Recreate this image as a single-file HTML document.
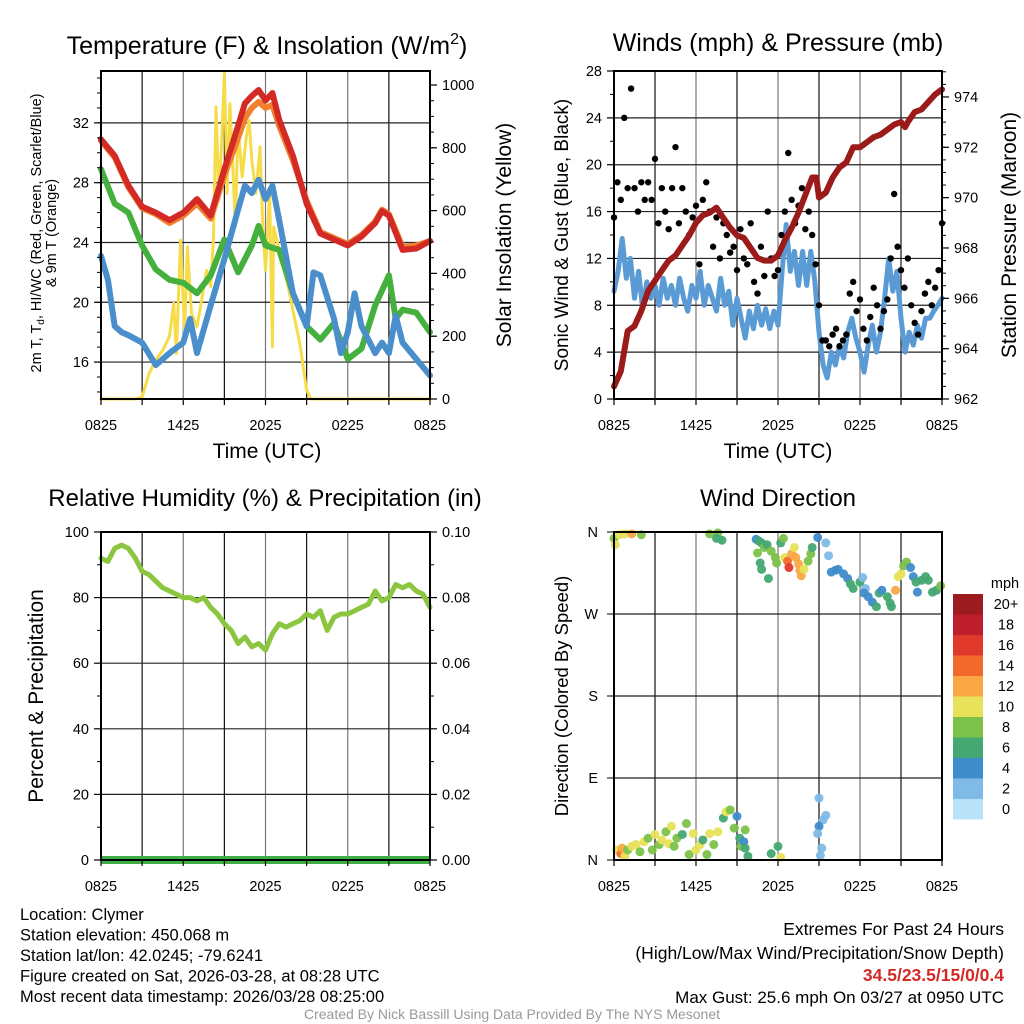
<!DOCTYPE html>
<html><head><meta charset="utf-8"><style>
body{margin:0;background:#fff;}
svg{display:block;font-family:"Liberation Sans",sans-serif;}
</style></head><body>
<svg id="svg" width="1024" height="1024" viewBox="0 0 1024 1024" xmlns="http://www.w3.org/2000/svg"></svg>
<script>
// ---- Panel 1 data ----
const redT=[0,1,2,3,4,5,6,7,8,9,10,10.5,11,11.5,12,12.5,13,14,15,16,17,18,19,20,20.5,21,22,23,24];
const redV=[30.9,29.8,27.8,26.4,26,25.5,26,26.9,25.8,28.9,31.8,33.3,33.8,34.2,33.5,34,32.2,29.8,26.6,24.6,24.2,23.8,24.4,25.3,26.1,25.8,23.5,23.6,24.1];
const orangeV=[30.8,29.7,27.7,26.3,25.9,25.3,25.8,26.6,25.6,28.5,31.0,32.3,33.0,33.4,33.0,33.2,31.8,29.5,26.8,24.7,24.3,23.9,24.5,25.4,26.2,25.9,23.7,23.8,24.1];
const greenT=[0,1,2,3,4,5,6,7,8,9,10,11,11.5,12,13,14,15,16,17,18,19,20,21,21.5,22,23,24];
const greenV=[28.9,26.6,26,23.8,22.2,21.5,21.3,20.6,21.8,24.2,22,23.8,25.1,23.8,23.5,20.6,18.4,17.5,18.6,16.2,16.9,19.8,21.8,18.9,19.5,19.3,18];
const blueT=[0,0.5,1,1.5,2,3,4,5,6,6.5,7,8,9,10,10.5,11,11.5,12,12.5,13,14,15,15.5,16,17,17.5,18,18.5,19,20,20.5,21,21.5,22,23,24];
const blueV=[23.1,21.5,18.4,18,17.8,17.3,15.8,16.6,17.3,18.9,16.6,19.8,22.9,26.2,27.8,27.3,28.2,26.9,27.8,25.5,20.6,18.4,22,21.8,18.9,16.6,18,20.6,18.4,16.6,17.3,16.6,19.1,17.3,16.2,15.1];
const solT=[0,2.5,3,3.5,4,4.5,5,5.3,5.5,5.8,6.1,6.3,6.6,7,7.3,7.7,8,8.2,8.4,8.6,8.8,9,9.2,9.4,9.6,9.8,10,10.3,10.6,10.8,11,11.3,11.6,11.8,12,12.3,12.5,12.6,13,13.5,14,14.5,15,15.3,24];
const solV=[0,0,7,80,125,155,200,305,145,506,210,485,273,230,305,410,358,506,930,634,814,1037,655,940,761,548,867,708,835,888,761,655,803,548,410,655,166,548,474,390,283,177,29,0,0];
// ---- Panel 2 data ----
const presT=[0,0.5,1,1.5,2,2.5,3,3.5,4,4.5,5,5.5,6,6.5,7,7.5,8,8.5,9,9.5,10,10.5,11,11.5,12,12.5,13,13.5,14,14.5,14.8,15,15.5,16,16.5,17,17.5,18,18.5,19,19.5,20,20.5,21,21.3,21.5,22,22.5,23,23.5,24];
const presV=[962.5,963.1,964.7,964.9,965.5,966.3,966.7,967.1,967.5,967.7,968.1,968.5,969.0,969.3,969.4,969.6,969.2,968.8,968.5,968.4,968.0,967.6,967.5,967.5,967.7,968.3,968.8,969.4,970.1,970.8,970.8,970.0,970.2,970.8,971.2,971.4,972.0,972.0,972.2,972.4,972.5,972.7,972.9,973.0,972.8,973.0,973.4,973.5,973.8,974.1,974.3];
const windV=[9.2,10.9,13.7,10.3,12,8.6,10.9,7.7,10,8.6,9.7,8,10.3,8.6,9.7,8,10.3,8.6,7.5,9.7,8.6,10.9,8,9.7,8.6,7.5,10.3,8,9.2,6.3,8.6,6.9,5.2,7.5,6,8,6.3,7.7,6,7.5,6.3,10.9,14.9,10.9,12.6,9.7,12.6,9.7,12.6,10,5.7,2.9,1.8,4,2.9,4.6,3.5,5.7,6.9,5.2,4,2.3,4.6,6.3,4,5.7,8.6,12,9.2,10.9,6.9,4,5.7,4.6,6.3,5.2,6.9,6.9,7.5,8,8.6];
const gustV=[15.5,18.5,17,24,18,26.5,18,16,18.5,17,18.5,17,20.5,15,18,16,14.5,18,21.5,15,18,16,14,15.5,16.5,11.5,17,18.5,16,13,15.5,12,15,14,12.5,13,11,14.5,12,11.5,15,10,9,13,10.5,16,12,10.5,11,14,16,21,17,15,16.5,18,14.5,16,14,11.5,8,5,5,4.5,5.5,6,4.5,5,5.5,9,10,7.5,8.5,6,5,7,9.5,8,6,7.5,8.5,12,17.5,13,11,9.5,12,8,6.5,5.5,7.5,9,10,8,9.5,11,15];
// ---- Panel 3 data ----
const rhT=[0,0.5,1,1.5,2,2.5,3,3.5,4,4.5,5,5.5,6,6.5,7,7.5,8,8.5,9,9.5,10,10.5,11,11.5,12,12.5,13,13.5,14,14.5,15,15.5,16,16.5,17,17.5,18,18.5,19,19.5,20,20.5,21,21.5,22,22.5,23,23.5,24];
const rhV=[92,91,95,96,95,92,88,87,85,83,82,81,80,80,79,80,77,75,72,70,66,68,65,66,64,69,72,71,72,73,75,74,76,70,74,75,75,76,77,78,82,79,80,84,83,84,82,81,77];
// ---- Panel 4 data ----
const dirT=[0,0.1,0.4,0.8,1.3,2,0.2,0.5,0.6,0.8,1,1.3,1.6,1.9,2.2,2.5,2.8,3,3.3,3.5,3.8,4,4.2,4.4,4.6,5,5.3,5.5,5.8,6,6.3,6.5,6.8,7,7.3,7.6,8,8.2,8.5,8.8,9,9.2,9.3,9.5,9.6,9.8,9.6,11.5,12,12.2,15,15.5,15.3,15,14.9,15.2,15.1,7,7.6,7.5,7.9,10.4,10.6,10.8,10.5,10.7,10.8,11,11.2,11.3,11.5,11.8,11.9,12.2,12.4,12.5,12.7,12.8,13,13.2,13.3,13.5,13.6,13.7,13.9,14.2,14.4,14.5,14.9,15.5,15.7,15.9,16.2,16.4,16.8,17.1,17.3,17.5,18,18.2,18.4,18.3,18.6,18.9,19.2,19.4,19.6,20,20.2,20.3,20.6,20.8,21,21.2,21.4,21.7,21.9,22.1,22.2,22.5,22.8,23,23.3,23.6,23.9];
const dirV=[353,346,357,358,358,357,11,7,13,4,11,15,17,9,20,24,11,28,17,22,31,18,37,15,24,28,40,6,29,11,17,22,6,29,17,31,46,53,55,35,48,24,15,20,13,4,33,7,15,3,68,49,44,37,29,13,5,358,359,353,351,352,350,348,337,326,319,343,346,309,339,332,326,348,353,332,328,321,336,343,332,325,318,312,319,328,336,343,354,348,334,316,318,319,314,309,303,298,305,310,298,293,289,283,278,293,296,289,282,278,296,311,314,323,327,321,311,305,294,307,311,307,294,296,301];
const dirS=[8,10,10,10,12,8,10,14,12,10,8,10,10,8,10,8,8,10,8,10,8,10,10,8,8,6,8,8,10,10,10,6,8,10,8,10,6,10,8,8,4,6,8,4,6,6,8,6,6,10,2,2,2,4,2,2,2,8,8,6,6,4,6,6,8,6,6,8,6,6,8,8,8,6,8,10,14,16,12,10,12,12,12,12,10,8,8,6,4,2,2,4,4,4,4,4,6,6,6,2,2,4,4,4,6,6,4,6,6,6,12,10,10,8,8,4,4,6,4,6,6,6,6,6,8];
const cbLabels=["20+","18","16","14","12","10","8","6","4","2","0"];
const cbColors=["#9b1b1f","#bf1e2d","#e0392b","#f26a2b","#f9a845","#e8e25a","#7cc24a","#44a873","#3f8ccb","#7fbbe6","#b9e2f8"];
const xTickLabels=["0825","1425","2025","0225","0825"];

const svg=document.getElementById('svg');
const NS="http://www.w3.org/2000/svg";
function mk(tag,attrs,parent){const e=document.createElementNS(NS,tag);for(const k in attrs)e.setAttribute(k,attrs[k]);(parent||svg).appendChild(e);return e;}
function txt(s,x,y,size,anchor,parent,extra){const e=mk('text',Object.assign({x:x,y:y,'font-size':size,'text-anchor':anchor||'middle',fill:'#000'},extra||{}),parent);e.textContent=s;return e;}
function speedColor(s){let i=10-Math.min(10,Math.floor(s/2));return cbColors[i];}

function panel(name,x0,x1,y0,y1){
  const g=mk('g',{});
  
  
  return {g,x0,x1,y0,y1,sx:t=>x0+(x1-x0)*t/24};
}
function frame(p,hLines){
  for(let i=1;i<8;i++){const x=p.sx(i*3);const l=mk('line',{x1:x,x2:x,y1:p.y0,y2:p.y1,stroke:(i%2==0)?'#777':'#111','stroke-width':1.2},p.g);}
  hLines.forEach(y=>{const l=mk('line',{x1:p.x0,x2:p.x1,y1:y,y2:y,stroke:'#222','stroke-width':1.2},p.g);});
}
function border(p){const r=mk('rect',{x:p.x0,y:p.y0,width:p.x1-p.x0,height:p.y1-p.y0,fill:'none',stroke:'#000','stroke-width':2},p.g);
  const xt=mk('g',{},p.g);
  for(let i=0;i<=8;i++){const x=p.sx(i*3);mk('line',{x1:x,x2:x,y1:p.y1,y2:p.y1+6,stroke:'#000','stroke-width':1.2},xt);}
  xTickLabels.forEach((s,i)=>txt(s,p.sx(i*6),p.y1+31,14.5,'middle',xt));
}
function path(p,T,V,sy,color,w,name){let d='';T.forEach((t,i)=>{d+=(i?'L':'M')+p.sx(t).toFixed(1)+','+sy(V[i]).toFixed(1);});const e=mk('path',{d:d,fill:'none',stroke:color,'stroke-width':w,'stroke-linejoin':'round','stroke-linecap':'round'},p.g);return e;}
function yTicks(p,vals,sy,fmt,side,minor){const g=mk('g',{},p.g);
  const ax=side=='left'?p.x0:p.x1,dir=side=='left'?-1:1;
  (minor||[]).forEach(v=>{const y=sy(v);mk('line',{x1:ax,x2:ax+dir*4,y1:y,y2:y,stroke:'#000','stroke-width':1},g);});
  vals.forEach(v=>{const y=sy(v);mk('line',{x1:ax,x2:ax+dir*7,y1:y,y2:y,stroke:'#000','stroke-width':1.2},g);txt(fmt(v),ax+dir*12,y+5,14.5,side=='left'?'end':'start',g);});}

// ===== Panel 1 =====
const p1=panel('temperature-panel',101,430,71,399);
const s1=v=>399-(v-13.53)*(328/21.94);
const s1r=v=>399-v*0.314;
frame(p1,[16,20,24,28,32].map(s1));
path(p1,solT,solV,s1r,'#f7dc4a',3,'solar-insolation-line');
path(p1,greenT,greenV,s1,'#46b03f',6,'dewpoint-line');
path(p1,blueT,blueV,s1,'#4a8fcb',6,'wind-chill-line');
path(p1,redT,orangeV,s1,'#f08030',6,'9m-temperature-line');
path(p1,redT,redV,s1,'#d42a26',6,'2m-temperature-line');
border(p1);
const m1=[];for(let v=14;v<=35;v++)m1.push(v);
yTicks(p1,[16,20,24,28,32],s1,v=>v,'left',m1);
const m1r=[];for(let v=0;v<=1040;v+=50)m1r.push(v);
yTicks(p1,[0,200,400,600,800,1000],s1r,v=>v,'right',m1r);
const t1=txt('',267,54,25,'middle');t1.innerHTML='Temperature (F) &amp; Insolation (W/m<tspan dy="-10" font-size="16">2</tspan><tspan dy="10">)</tspan>';
const xl1=txt('Time (UTC)',267,458,21);
const yl1=mk('text',{x:0,y:0,'font-size':14.5,'text-anchor':'middle',transform:'translate(41,233) rotate(-90)'});yl1.innerHTML='2m T, T<tspan font-size="10" dy="3">d</tspan><tspan dy="-3">, HI/WC (Red, Green, Scarlet/Blue)</tspan>';
const yl1b=txt('& 9m T (Orange)',0,0,14.5,'middle',svg,{transform:'translate(56,233) rotate(-90)'});
const yr1=txt('Solar Insolation (Yellow)',0,0,21,'middle',svg,{transform:'translate(511,235) rotate(-90)'});

// ===== Panel 2 =====
const p2=panel('winds-panel',614,942,71,399);
const s2=v=>399-v*(328/28);
const s2r=v=>399-(v-962)*25.17;
frame(p2,[4,8,12,16,20,24].map(s2));
path(p2,windV.map((v,i)=>i*24/(windV.length-1)),windV,s2,'#5a9bd5',5,'sonic-wind-line');
gustV.forEach((v,i)=>{const c=mk('circle',{cx:p2.sx(i*24/(gustV.length-1)),cy:s2(v),r:3.2,fill:'#000'},p2.g);});
path(p2,presT,presV,s2r,'#9b1b1b',6,'pressure-line');
border(p2);
yTicks(p2,[0,4,8,12,16,20,24,28],s2,v=>v,'left',[2,6,10,14,18,22,26]);
const m2r=[];for(let v=962;v<=975;v+=0.5)m2r.push(v);
yTicks(p2,[962,964,966,968,970,972,974],s2r,v=>v,'right',m2r);
const t2=txt('Winds (mph) & Pressure (mb)',778,51,25);
const xl2=txt('Time (UTC)',778,458,21);
const yl2=txt('Sonic Wind & Gust (Blue, Black)',0,0,19,'middle',svg,{transform:'translate(568,235) rotate(-90)'});
const yr2=txt('Station Pressure (Maroon)',0,0,21,'middle',svg,{transform:'translate(1016,235) rotate(-90)'});

// ===== Panel 3 =====
const p3=panel('humidity-panel',101,430,532,860);
const s3=v=>860-v*3.28;
frame(p3,[20,40,60,80].map(s3));
path(p3,rhT,rhV,s3,'#8cc63f',5,'relative-humidity-line');
const pr=mk('rect',{x:101,y:856,width:329,height:8,fill:'#3fae49'},p3.g);
border(p3);
yTicks(p3,[0,20,40,60,80,100],s3,v=>v,'left',[10,30,50,70,90]);
yTicks(p3,[0,20,40,60,80,100],s3,v=>(v/1000).toFixed(2),'right',[10,30,50,70,90]);
const t3=txt('Relative Humidity (%) & Precipitation (in)',265,506,24);
const yl3=txt('Percent & Precipitation',0,0,21,'middle',svg,{transform:'translate(43,696) rotate(-90)'});

// ===== Panel 4 =====
const p4=panel('wind-direction-panel',614,942,532,860);
const s4=v=>860-v*(328/360);
frame(p4,[90,180,270].map(s4));
dirT.forEach((t,i)=>{const c=mk('circle',{cx:p4.sx(t),cy:s4(dirV[i]),r:4.5,fill:speedColor(dirS[i]),'fill-opacity':0.95},p4.g);});
border(p4);
const dg=mk('g',{});
[['N',0],['E',90],['S',180],['W',270],['N',360]].forEach(a=>{const y=s4(a[1]);mk('line',{x1:614,x2:607,y1:y,y2:y,stroke:'#000'},dg);txt(a[0],598,y+5,14.5,'end',dg);});
const t4=txt('Wind Direction',778,506,24);
const yl4=txt('Direction (Colored By Speed)',0,0,18.5,'middle',svg,{transform:'translate(568,696) rotate(-90)'});
// colorbar
const cb=mk('g',{});
txt('mph',1005,588,14.5,'middle',cb);
cbColors.forEach((c,i)=>{mk('rect',{x:953,y:594+i*20.5,width:30,height:20.5,fill:c},cb);txt(cbLabels[i],1006,609+i*20.5,14.5,'middle',cb);});

// ===== footer =====
const info=mk('g',{});
["Location: Clymer","Station elevation: 450.068 m","Station lat/lon: 42.0245; -79.6241","Figure created on Sat, 2026-03-28, at 08:28 UTC","Most recent data timestamp: 2026/03/28 08:25:00"].forEach((s,i)=>txt(s,20,920+i*20.5,16.5,'start',info));
const ex=mk('g',{});
txt('Extremes For Past 24 Hours',1004,935,17.5,'end',ex);
txt('(High/Low/Max Wind/Precipitation/Snow Depth)',1004,959,17.5,'end',ex);
txt('34.5/23.5/15/0/0.4',1004,981,17.5,'end',ex,{fill:'#d42a26','font-weight':'bold'});
txt('Max Gust: 25.6 mph On 03/27 at 0950 UTC',1004,1003,17,'end',ex);
const cr=txt('Created By Nick Bassill Using Data Provided By The NYS Mesonet',512,1019,14,'middle',svg,{fill:'#999'});
</script>
</body></html>
